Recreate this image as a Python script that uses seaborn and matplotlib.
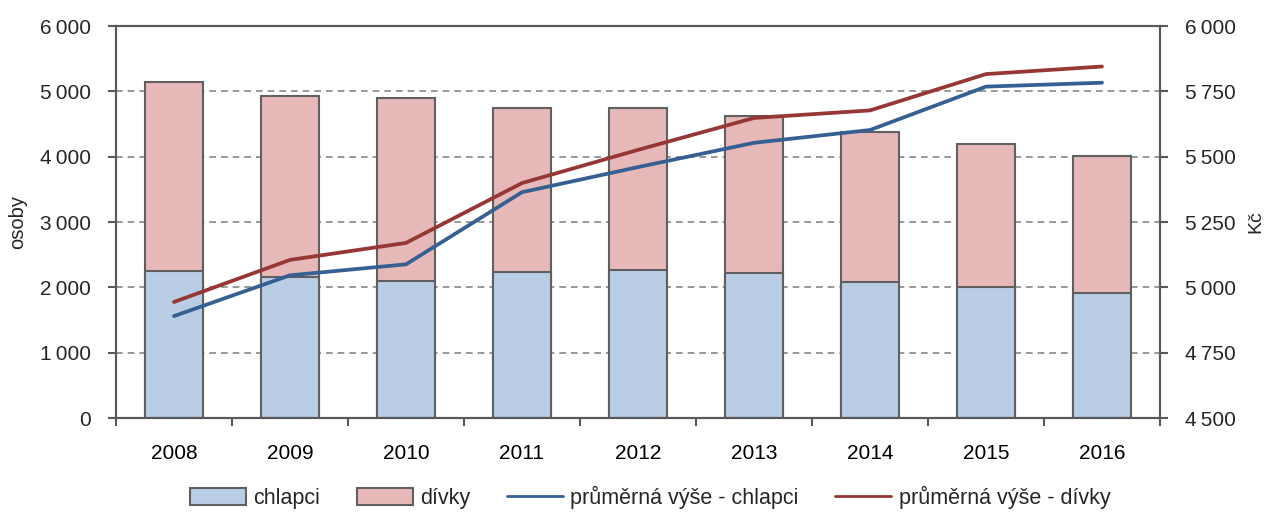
import numpy as np
import pandas as pd
import matplotlib
matplotlib.use('Agg')
import matplotlib.pyplot as plt
import seaborn as sns
from matplotlib.ticker import FixedLocator, FuncFormatter
from matplotlib.patches import Patch
from matplotlib.lines import Line2D

# Data
years = ['2008', '2009', '2010', '2011', '2012', '2013', '2014', '2015', '2016']
chlapci = [2250, 2165, 2090, 2240, 2265, 2220, 2085, 2010, 1915]
divky = [2895, 2765, 2810, 2505, 2480, 2405, 2300, 2180, 2095]
vyse_chlapci = [4890, 5046, 5088, 5364, 5460, 5553, 5602, 5768, 5783]
vyse_divky = [4944, 5105, 5170, 5399, 5526, 5648, 5677, 5816, 5845]

BLUE_BAR = '#B9CDE5'
PINK_BAR = '#E6B9B8'
EDGE = '#5F5F5F'
BLUE_LINE = '#376092'
RED_LINE = '#953735'
AXIS = '#595959'

sns.set_style('white')
plt.rcParams['font.family'] = ['Liberation Sans', 'DejaVu Sans']

df = pd.DataFrame({
    'rok': years,
    'chlapci': chlapci,
    'celkem': np.array(chlapci) + np.array(divky),
    'pos': np.arange(len(years)),
    'vyse_chlapci': vyse_chlapci,
    'vyse_divky': vyse_divky,
})

def thousands(v, _):
    s = f'{int(round(v)):,}'
    return s.replace(',', '\u2009')

fig = plt.figure(figsize=(12.7, 5.14), dpi=100)
ax = fig.add_axes([116 / 1270, 1 - 418 / 514, (1160 - 116) / 1270, (418 - 26) / 514])

# stacked bars: total (dívky on top) first, chlapci drawn over the bottom part
sns.barplot(data=df, x='rok', y='celkem', color=PINK_BAR, saturation=1, width=0.5,
            edgecolor=EDGE, linewidth=1.5, ax=ax, zorder=2)
sns.barplot(data=df, x='rok', y='chlapci', color=BLUE_BAR, saturation=1, width=0.5,
            edgecolor=EDGE, linewidth=1.5, ax=ax, zorder=2)

ax.set_xlim(-0.5, len(years) - 0.5)
ax.set_ylim(0, 6000)
ax.yaxis.set_major_locator(FixedLocator(np.arange(0, 6001, 1000)))
ax.yaxis.set_major_formatter(FuncFormatter(thousands))
ax.set_axisbelow(True)
ax.yaxis.grid(True, linestyle=(0, (4, 3)), color='#868686', linewidth=1.2)
ax.xaxis.grid(False)

ax.set_xlabel('')
ax.set_ylabel('osoby', fontsize=14.5)
ax.yaxis.set_label_coords((27 - 116) / 1044, 0.5)
ax.xaxis.set_minor_locator(FixedLocator(np.arange(-0.5, len(years), 1.0)))
ax.tick_params(axis='x', which='major', length=0, pad=19, labelsize=15, colors='black')
ax.tick_params(axis='x', which='minor', length=6, width=1.5, color=AXIS, direction='out', bottom=True)
ax.tick_params(axis='y', length=6, width=1.5, color=AXIS, direction='out', left=True,
               pad=12, labelsize=15)
for sp in ax.spines.values():
    sp.set_color(AXIS)
    sp.set_linewidth(1.5)

# second axis for the average amounts
ax2 = ax.twinx()
sns.lineplot(data=df, x='pos', y='vyse_chlapci', color=BLUE_LINE, linewidth=2.7, ax=ax2)
sns.lineplot(data=df, x='pos', y='vyse_divky', color=RED_LINE, linewidth=2.7, ax=ax2)
ax2.set_ylim(4500, 6000)
ax2.yaxis.set_major_locator(FixedLocator(np.arange(4500, 6001, 250)))
ax2.yaxis.set_major_formatter(FuncFormatter(thousands))
ax2.set_ylabel('Kč', fontsize=14)
ax2.yaxis.set_label_coords((1247 - 116) / 1044, 0.5)
ax2.tick_params(axis='y', length=6, width=1.5, color=AXIS, direction='out', right=True,
                pad=12, labelsize=15)
ax2.set_xlim(-0.5, len(years) - 0.5)
for sp in ax2.spines.values():
    sp.set_color(AXIS)
    sp.set_linewidth(1.5)

handles = [
    Patch(facecolor=BLUE_BAR, edgecolor=EDGE, linewidth=1.5, label='chlapci'),
    Patch(facecolor=PINK_BAR, edgecolor=EDGE, linewidth=1.5, label='dívky'),
    Line2D([0], [0], color=BLUE_LINE, linewidth=2, label='průměrná výše - chlapci'),
    Line2D([0], [0], color=RED_LINE, linewidth=2, label='průměrná výše - dívky'),
]
fig.legend(handles=handles, loc='center', bbox_to_anchor=(650 / 1270, 1 - 497 / 514),
           ncol=4, frameon=False, fontsize=15.5, handlelength=2.6, handleheight=0.85,
           handletextpad=0.35, columnspacing=1.7)

fig.savefig('out.png', dpi=100)
